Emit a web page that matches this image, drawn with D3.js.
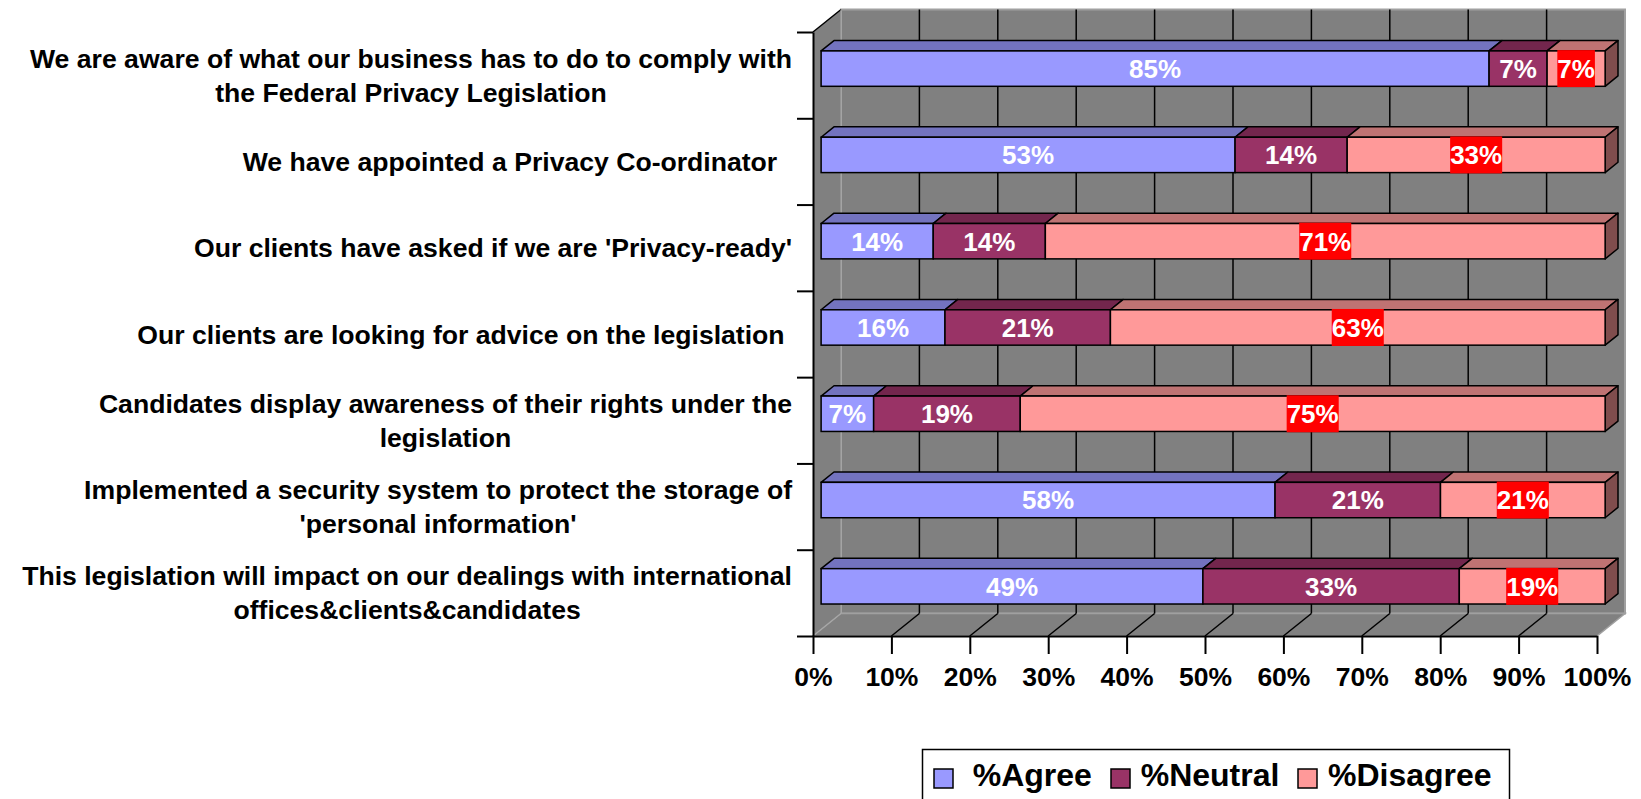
<!DOCTYPE html>
<html lang="en">
<head>
<meta charset="utf-8">
<title>Privacy legislation survey</title>
<script src="https://cdn.jsdelivr.net/npm/d3@7"></script>
<style>
  body { margin: 0; background: #fff; }
  svg text { font-family: "Liberation Sans", Arial, sans-serif; font-weight: bold; white-space: pre; }
</style>
</head>
<body>
<svg id="chart" width="1641" height="799"></svg>
<script>
// category labels, one entry per wrapped line
var categories = [
  ["We are aware of what our business has to do to comply with", "the Federal Privacy Legislation"],
  ["We have appointed a Privacy Co-ordinator  "],
  ["Our clients have asked if we are 'Privacy-ready'"],
  ["Our clients are looking for advice on the legislation "],
  ["Candidates display awareness of their rights under the", "legislation"],
  ["Implemented a security system to protect the storage of", "'personal information'"],
  ["This legislation will impact on our dealings with international", "offices&clients&candidates"]
];
var agree    = [85.2, 52.8, 14.3, 15.8,  6.7, 57.9, 48.7];
var neutral  = [ 7.4, 14.3, 14.3, 21.1, 18.7, 21.1, 32.7];
var disagree = [ 7.4, 32.9, 71.4, 63.1, 74.6, 21.0, 18.6];
var seriesNames = ["%Agree", "%Neutral", "%Disagree"];
var xTicks = [0, 0.1, 0.2, 0.3, 0.4, 0.5, 0.6, 0.7, 0.8, 0.9, 1];

var colors = ["#9999ff", "#993366", "#ff9999"];

var svg = d3.select("#chart");

var x = d3.scaleLinear().domain([0, 1]).range([813, 1597]);
var y = d3.scaleBand().domain(d3.range(categories.length)).range([32, 636]);
var yEdge = d3.scaleLinear().domain([0, categories.length]).range([32, 636]);

// 3d depth of the plot box
var DX = 28, DY = -22.5;
var bFront = 0.29, bBack = 0.75;
var barH = y.bandwidth() * 0.41;

var rows = agree.map(function(d, i) {
  return { agree: agree[i], neutral: neutral[i], disagree: disagree[i] };
});
var stack = d3.stack().keys(["agree", "neutral", "disagree"]).offset(d3.stackOffsetExpand);
var series = stack(rows);

var x0 = x(0), x1 = x(1), y0 = yEdge(0), y1 = yEdge(categories.length);

function poly(pts) { return "M" + pts.map(function(p) { return p.join(","); }).join("L") + "Z"; }

// walls + floor
svg.append("path").attr("d", poly([[x0 + DX, y0 + DY], [x1 + DX, y0 + DY], [x1 + DX, y1 + DY], [x0 + DX, y1 + DY]]))
  .attr("fill", "#808080").attr("stroke", "#a0a0a0").attr("stroke-width", 2);
svg.append("path").attr("d", poly([[x0, y0], [x0 + DX, y0 + DY], [x0 + DX, y1 + DY], [x0, y1]]))
  .attr("fill", "#808080");
svg.append("path").attr("d", poly([[x0, y1], [x1, y1], [x1 + DX, y1 + DY], [x0 + DX, y1 + DY]]))
  .attr("fill", "#808080").attr("stroke", "#a0a0a0").attr("stroke-width", 1.5);

// left wall top edge
svg.append("line").attr("x1", x0).attr("y1", y0).attr("x2", x0 + DX).attr("y2", y0 + DY)
  .attr("stroke", "#000").attr("stroke-width", 1.5);

// light edges at 0
svg.append("line").attr("x1", x0 + DX).attr("y1", y0 + DY).attr("x2", x0 + DX).attr("y2", y1 + DY)
  .attr("stroke", "#a8a8a8").attr("stroke-width", 1);
svg.append("line").attr("x1", x0).attr("y1", y1).attr("x2", x0 + DX).attr("y2", y1 + DY)
  .attr("stroke", "#a8a8a8").attr("stroke-width", 1);

// gridlines on back wall and floor
var inner = xTicks.slice(1, -1);
svg.append("g").selectAll("line").data(inner).enter().append("line")
  .attr("x1", function(d) { return x(d) + DX; }).attr("x2", function(d) { return x(d) + DX; })
  .attr("y1", y0 + DY).attr("y2", y1 + DY)
  .attr("stroke", "#000").attr("stroke-width", 1.5);
svg.append("g").selectAll("line").data(inner).enter().append("line")
  .attr("x1", function(d) { return x(d); }).attr("x2", function(d) { return x(d) + DX; })
  .attr("y1", y1).attr("y2", y1 + DY)
  .attr("stroke", "#000").attr("stroke-width", 1.5);

// bars
function shade(c, k) {
  var r = d3.rgb(c);
  return d3.rgb(r.r * k, r.g * k, r.b * k).toString();
}
var fdx = bFront * DX, fdy = bFront * DY;
var ddx = (bBack - bFront) * DX, ddy = (bBack - bFront) * DY;

var barG = svg.append("g");
categories.forEach(function(c, i) {
  var fy = y(i) + y.bandwidth() / 2 + fdy - barH / 2;
  var g = barG.append("g");
  series.forEach(function(s, k) {
    var a = x(s[i][0]) + fdx, b = x(s[i][1]) + fdx;
    g.append("path")
      .attr("d", poly([[a, fy], [a + ddx, fy + ddy], [b + ddx, fy + ddy], [b, fy]]))
      .attr("fill", shade(colors[k], 0.75)).attr("stroke", "#000").attr("stroke-width", 1.5).attr("stroke-linejoin", "round");
  });
  var last = series[series.length - 1][i];
  var e = x(last[1]) + fdx;
  g.append("path")
    .attr("d", poly([[e, fy], [e + ddx, fy + ddy], [e + ddx, fy + ddy + barH], [e, fy + barH]]))
    .attr("fill", shade(colors[2], 0.5)).attr("stroke", "#000").attr("stroke-width", 1.5).attr("stroke-linejoin", "round");
  series.forEach(function(s, k) {
    var a = x(s[i][0]) + fdx, b = x(s[i][1]) + fdx;
    g.append("rect").attr("x", a).attr("y", fy).attr("width", b - a).attr("height", barH)
      .attr("fill", colors[k]).attr("stroke", "#000").attr("stroke-width", 1.5);
  });
  series.forEach(function(s, k) {
    var a = x(s[i][0]) + fdx, b = x(s[i][1]) + fdx;
    var v = rows[i][s.key];
    var cx = (a + b) / 2, cy = fy + barH / 2;
    var bg = g.append("rect");
    var t = g.append("text").attr("x", cx).attr("y", cy).attr("dy", "0.36em")
      .attr("text-anchor", "middle").attr("font-size", 26).attr("fill", "#fff")
      .text(d3.format(".0f")(v) + "%");
    if (k === 2) {
      var w = t.node().getComputedTextLength();
      bg.attr("x", cx - w / 2).attr("y", cy - 18.5).attr("width", w).attr("height", 37).attr("fill", "#ff0000");
    } else {
      bg.remove();
    }
  });
});

// axes
var yAxis = svg.append("g").attr("transform", "translate(" + x0 + ",0)")
  .call(d3.axisLeft(yEdge).ticks(categories.length).tickSize(16).tickSizeOuter(0).tickFormat(""));
yAxis.selectAll("line,path").attr("stroke", "#000").attr("stroke-width", 2);

var xAxis = svg.append("g").attr("transform", "translate(0," + y1 + ")")
  .call(d3.axisBottom(x).tickValues(xTicks).tickSize(18).tickSizeOuter(0).tickPadding(13).tickFormat(d3.format(".0%")));
xAxis.selectAll("line,path").attr("stroke", "#000").attr("stroke-width", 2);
xAxis.selectAll("text").attr("font-size", 26.5).attr("fill", "#000")
  .attr("font-family", "'Liberation Sans', Arial, sans-serif").attr("font-weight", "bold");

// category labels
var labelRight = 792, lineGap = 34;
categories.forEach(function(lines, i) {
  var cy = y(i) + y.bandwidth() / 2;
  var top = cy - (lines.length - 1) * lineGap / 2;
  var first = svg.append("text").attr("x", labelRight).attr("y", top).attr("dy", "0.36em")
    .attr("text-anchor", "end").attr("font-size", 26.6).attr("fill", "#000").text(lines[0]);
  var mid = labelRight - first.node().getComputedTextLength() / 2;
  lines.slice(1).forEach(function(l, j) {
    svg.append("text").attr("x", mid).attr("y", top + (j + 1) * lineGap).attr("dy", "0.36em")
      .attr("text-anchor", "middle").attr("font-size", 26.6).attr("fill", "#000").text(l);
  });
});

// legend
var legend = svg.append("g");
legend.append("rect").attr("x", 922.5).attr("y", 749.5).attr("width", 587).attr("height", 70)
  .attr("fill", "#fff").attr("stroke", "#000").attr("stroke-width", 1.5);
var legendX = [934, 1111, 1298];
var legendTextGap = [38.7, 29.7, 30];
seriesNames.forEach(function(n, k) {
  legend.append("rect").attr("x", legendX[k]).attr("y", 769).attr("width", 19).attr("height", 19)
    .attr("fill", colors[k]).attr("stroke", "#000").attr("stroke-width", 1.5);
  legend.append("text").attr("x", legendX[k] + legendTextGap[k]).attr("y", 786)
    .attr("font-size", 32).attr("fill", "#000").text(n);
});
</script>
</body>
</html>
